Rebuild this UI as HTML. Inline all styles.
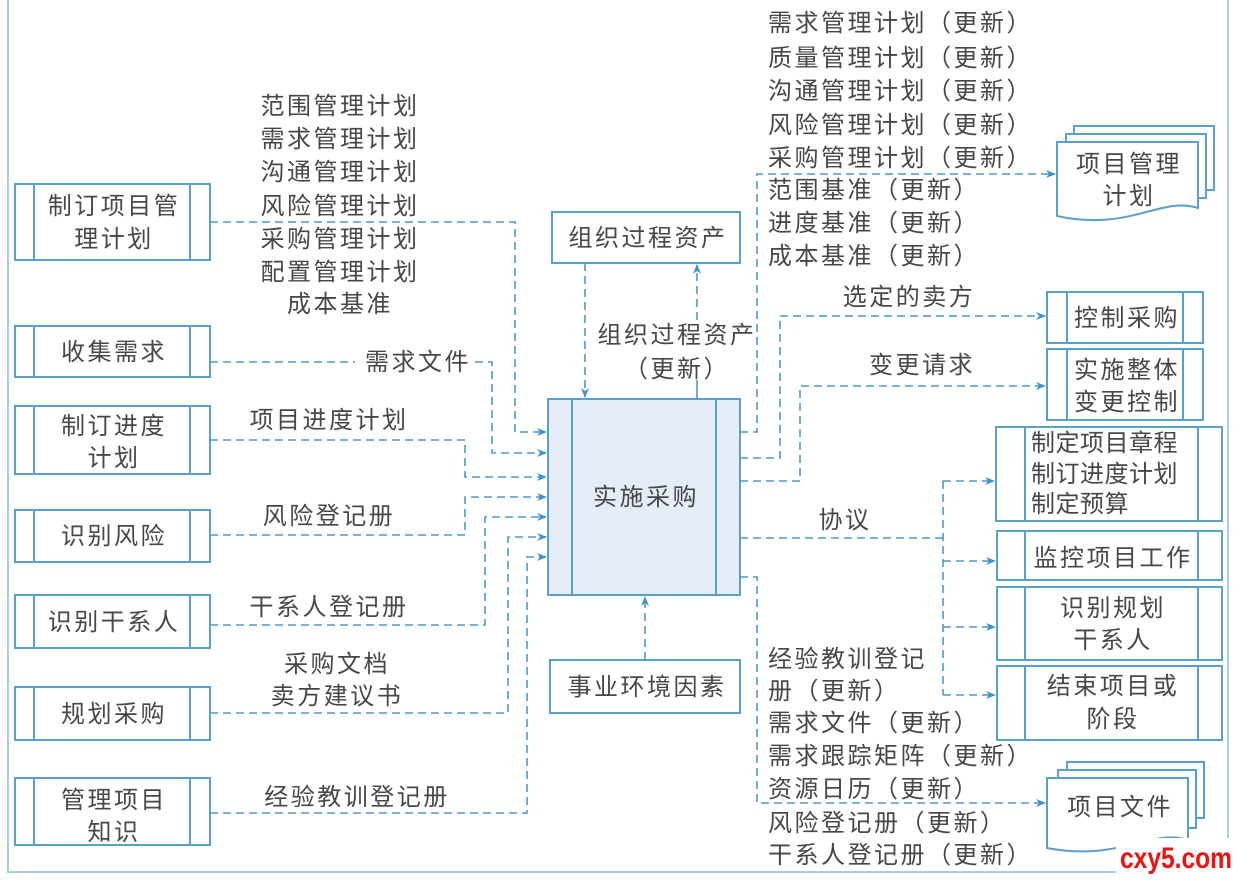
<!DOCTYPE html>
<html><head><meta charset="utf-8"><style>
body{margin:0;background:#fff}
svg text{font-family:"Liberation Sans","Noto Sans CJK SC",sans-serif;fill:#474747;font-size:24px;letter-spacing:2.5px}
</style></head><body>
<svg width="1237" height="878" viewBox="0 0 1237 878" xmlns="http://www.w3.org/2000/svg">
<defs>
<marker id="a" markerWidth="10" markerHeight="8" refX="9" refY="4" orient="auto" markerUnits="userSpaceOnUse"><path d="M0,0 L10,4 L0,8 L3,4z" fill="#3b94cc"/></marker>
</defs>
<rect x="8" y="-2" width="1220" height="874" fill="none" stroke="#a9cfe3" stroke-width="2"/>
<g fill="none" stroke="#5b9fcb" stroke-width="2">
<rect x="15" y="184" width="195" height="76"/><line x1="34" y1="184" x2="34" y2="260"/><line x1="190" y1="184" x2="190" y2="260"/>
<rect x="15" y="326" width="195" height="51"/><line x1="34" y1="326" x2="34" y2="377"/><line x1="190" y1="326" x2="190" y2="377"/>
<rect x="15" y="406" width="195" height="68"/><line x1="34" y1="406" x2="34" y2="474"/><line x1="190" y1="406" x2="190" y2="474"/>
<rect x="15" y="510" width="195" height="52"/><line x1="34" y1="510" x2="34" y2="562"/><line x1="190" y1="510" x2="190" y2="562"/>
<rect x="15" y="595" width="195" height="53"/><line x1="34" y1="595" x2="34" y2="648"/><line x1="190" y1="595" x2="190" y2="648"/>
<rect x="15" y="687" width="195" height="53"/><line x1="34" y1="687" x2="34" y2="740"/><line x1="190" y1="687" x2="190" y2="740"/>
<rect x="15" y="778" width="195" height="67"/><line x1="34" y1="778" x2="34" y2="845"/><line x1="190" y1="778" x2="190" y2="845"/>
<rect x="548" y="399" width="192" height="196" fill="#e4edf7"/><line x1="572" y1="399" x2="572" y2="595"/><line x1="716" y1="399" x2="716" y2="595"/>
<rect x="552" y="212" width="188" height="51"/>
<rect x="550" y="660" width="190" height="53"/>
<rect x="1047" y="292" width="156" height="51"/><line x1="1067" y1="292" x2="1067" y2="343"/><line x1="1183" y1="292" x2="1183" y2="343"/>
<rect x="1047" y="349" width="156" height="71"/><line x1="1067" y1="349" x2="1067" y2="420"/><line x1="1183" y1="349" x2="1183" y2="420"/>
<rect x="996" y="427" width="226" height="94"/><line x1="1025" y1="427" x2="1025" y2="521"/><line x1="1198" y1="427" x2="1198" y2="521"/>
<rect x="997" y="531" width="225" height="49"/><line x1="1025" y1="531" x2="1025" y2="580"/><line x1="1198" y1="531" x2="1198" y2="580"/>
<rect x="997" y="587" width="225" height="73"/><line x1="1025" y1="587" x2="1025" y2="660"/><line x1="1198" y1="587" x2="1198" y2="660"/>
<rect x="997" y="666" width="225" height="74"/><line x1="1025" y1="666" x2="1025" y2="740"/><line x1="1198" y1="666" x2="1198" y2="740"/>
<g fill="#fff">
<path d="M1074,126 H1214 V190 H1074 Z"/>
<path d="M1066,134 H1206 V198 H1066 Z"/>
<path d="M1057,142 H1198 V208 C1160,196 1130,232 1057,216 Z"/>
<path d="M1067,762 H1204 V818 H1067 Z"/>
<path d="M1058,770 H1196 V828 H1058 Z"/>
<path d="M1047,778 H1188 V840 C1150,828 1120,862 1047,848 Z"/>
</g>
</g>
<g fill="none" stroke="#4d98c8" stroke-width="1.6" stroke-dasharray="8,5">
<polyline points="210,222 515,222 515,432 546,432" marker-end="url(#a)"/>
<polyline points="210,362 355,362"/><polyline points="475,362 492,362 492,453 546,453" marker-end="url(#a)"/>
<polyline points="210,440 465,440 465,477 546,477" marker-end="url(#a)"/>
<polyline points="210,535 465,535 465,497 546,497" marker-end="url(#a)"/>
<polyline points="210,625 485,625 485,517 546,517" marker-end="url(#a)"/>
<polyline points="210,713 508,713 508,537 546,537" marker-end="url(#a)"/>
<polyline points="210,813 527,813 527,557 546,557" marker-end="url(#a)"/>
<polyline points="585,263 585,397" marker-end="url(#a)"/>
<polyline points="697,320 697,265" marker-end="url(#a)"/>
<polyline points="645,660 645,597" marker-end="url(#a)"/>
<polyline points="740,432 757,432 757,174 1055,174" marker-end="url(#a)"/>
<polyline points="740,458 780,458 780,316 1045,316" marker-end="url(#a)"/>
<polyline points="740,481 800,481 800,386 1045,386" marker-end="url(#a)"/>
<polyline points="740,538 943,538"/>
<polyline points="943,481 943,695"/>
<polyline points="943,481 994,481" marker-end="url(#a)"/>
<polyline points="943,561 995,561" marker-end="url(#a)"/>
<polyline points="943,627 995,627" marker-end="url(#a)"/>
<polyline points="943,695 995,695" marker-end="url(#a)"/>
<polyline points="740,577 757,577 757,803 1045,803" marker-end="url(#a)"/>
</g>
<g stroke="#4d98c8" stroke-width="1.6"><line x1="697" y1="380" x2="697" y2="399"/></g>
<g text-anchor="middle">
<text x="114" y="214">制订项目管</text><text x="114" y="247">理计划</text>
<text x="114" y="360">收集需求</text>
<text x="114" y="434">制订进度</text><text x="114" y="466">计划</text>
<text x="114" y="544">识别风险</text>
<text x="114" y="630">识别干系人</text>
<text x="114" y="722">规划采购</text>
<text x="114" y="808">管理项目</text><text x="114" y="840">知识</text>
<text x="646" y="505">实施采购</text>
<text x="648" y="246">组织过程资产</text>
<text x="647" y="695">事业环境因素</text>
<text x="1127" y="326">控制采购</text>
<text x="1127" y="378">实施整体</text><text x="1127" y="410">变更控制</text>
<text x="1113" y="566">监控项目工作</text>
<text x="1113" y="616">识别规划</text><text x="1113" y="648">干系人</text>
<text x="1113" y="694">结束项目或</text><text x="1113" y="727">阶段</text>
<text x="1129" y="172">项目管理</text><text x="1129" y="204">计划</text>
<text x="1120" y="815">项目文件</text>
<text x="340" y="114">范围管理计划</text><text x="340" y="147">需求管理计划</text><text x="340" y="180">沟通管理计划</text>
<text x="340" y="214">风险管理计划</text><text x="340" y="247">采购管理计划</text><text x="340" y="280">配置管理计划</text><text x="340" y="312">成本基准</text>
<text x="418" y="370">需求文件</text>
<text x="329" y="428">项目进度计划</text>
<text x="329" y="524">风险登记册</text>
<text x="329" y="615">干系人登记册</text>
<text x="337" y="672">采购文档</text><text x="337" y="704">卖方建议书</text>
<text x="357" y="805">经验教训登记册</text>
<text x="677" y="343">组织过程资产</text><text x="677" y="377">（更新）</text>
<text x="909" y="305">选定的卖方</text>
<text x="922" y="373">变更请求</text>
<text x="845" y="528">协议</text>
</g>
<g>
<text x="768" y="31">需求管理计划（更新）</text>
<text x="768" y="66">质量管理计划（更新）</text>
<text x="768" y="99">沟通管理计划（更新）</text>
<text x="768" y="133">风险管理计划（更新）</text>
<text x="768" y="166">采购管理计划（更新）</text>
<text x="768" y="198">范围基准（更新）</text>
<text x="768" y="231">进度基准（更新）</text>
<text x="768" y="264">成本基准（更新）</text>
<text x="1031" y="451" style="letter-spacing:0.5px">制定项目章程</text>
<text x="1031" y="482" style="letter-spacing:0.5px">制订进度计划</text>
<text x="1031" y="512" style="letter-spacing:0.5px">制定预算</text>
<text x="768" y="667">经验教训登记</text>
<text x="768" y="699">册（更新）</text>
<text x="768" y="731">需求文件（更新）</text>
<text x="768" y="764">需求跟踪矩阵（更新）</text>
<text x="768" y="797">资源日历（更新）</text>
<text x="768" y="831">风险登记册（更新）</text>
<text x="768" y="863">干系人登记册（更新）</text>
</g>
<rect x="1116" y="838" width="121" height="40" fill="#fff"/>
<text x="1120" y="868" textLength="112" lengthAdjust="spacingAndGlyphs" style="fill:#ee1111;font-weight:bold;font-size:30px;letter-spacing:0;font-family:'Liberation Sans Narrow','Liberation Sans',sans-serif">cxy5.com</text>
</svg>
</body></html>
